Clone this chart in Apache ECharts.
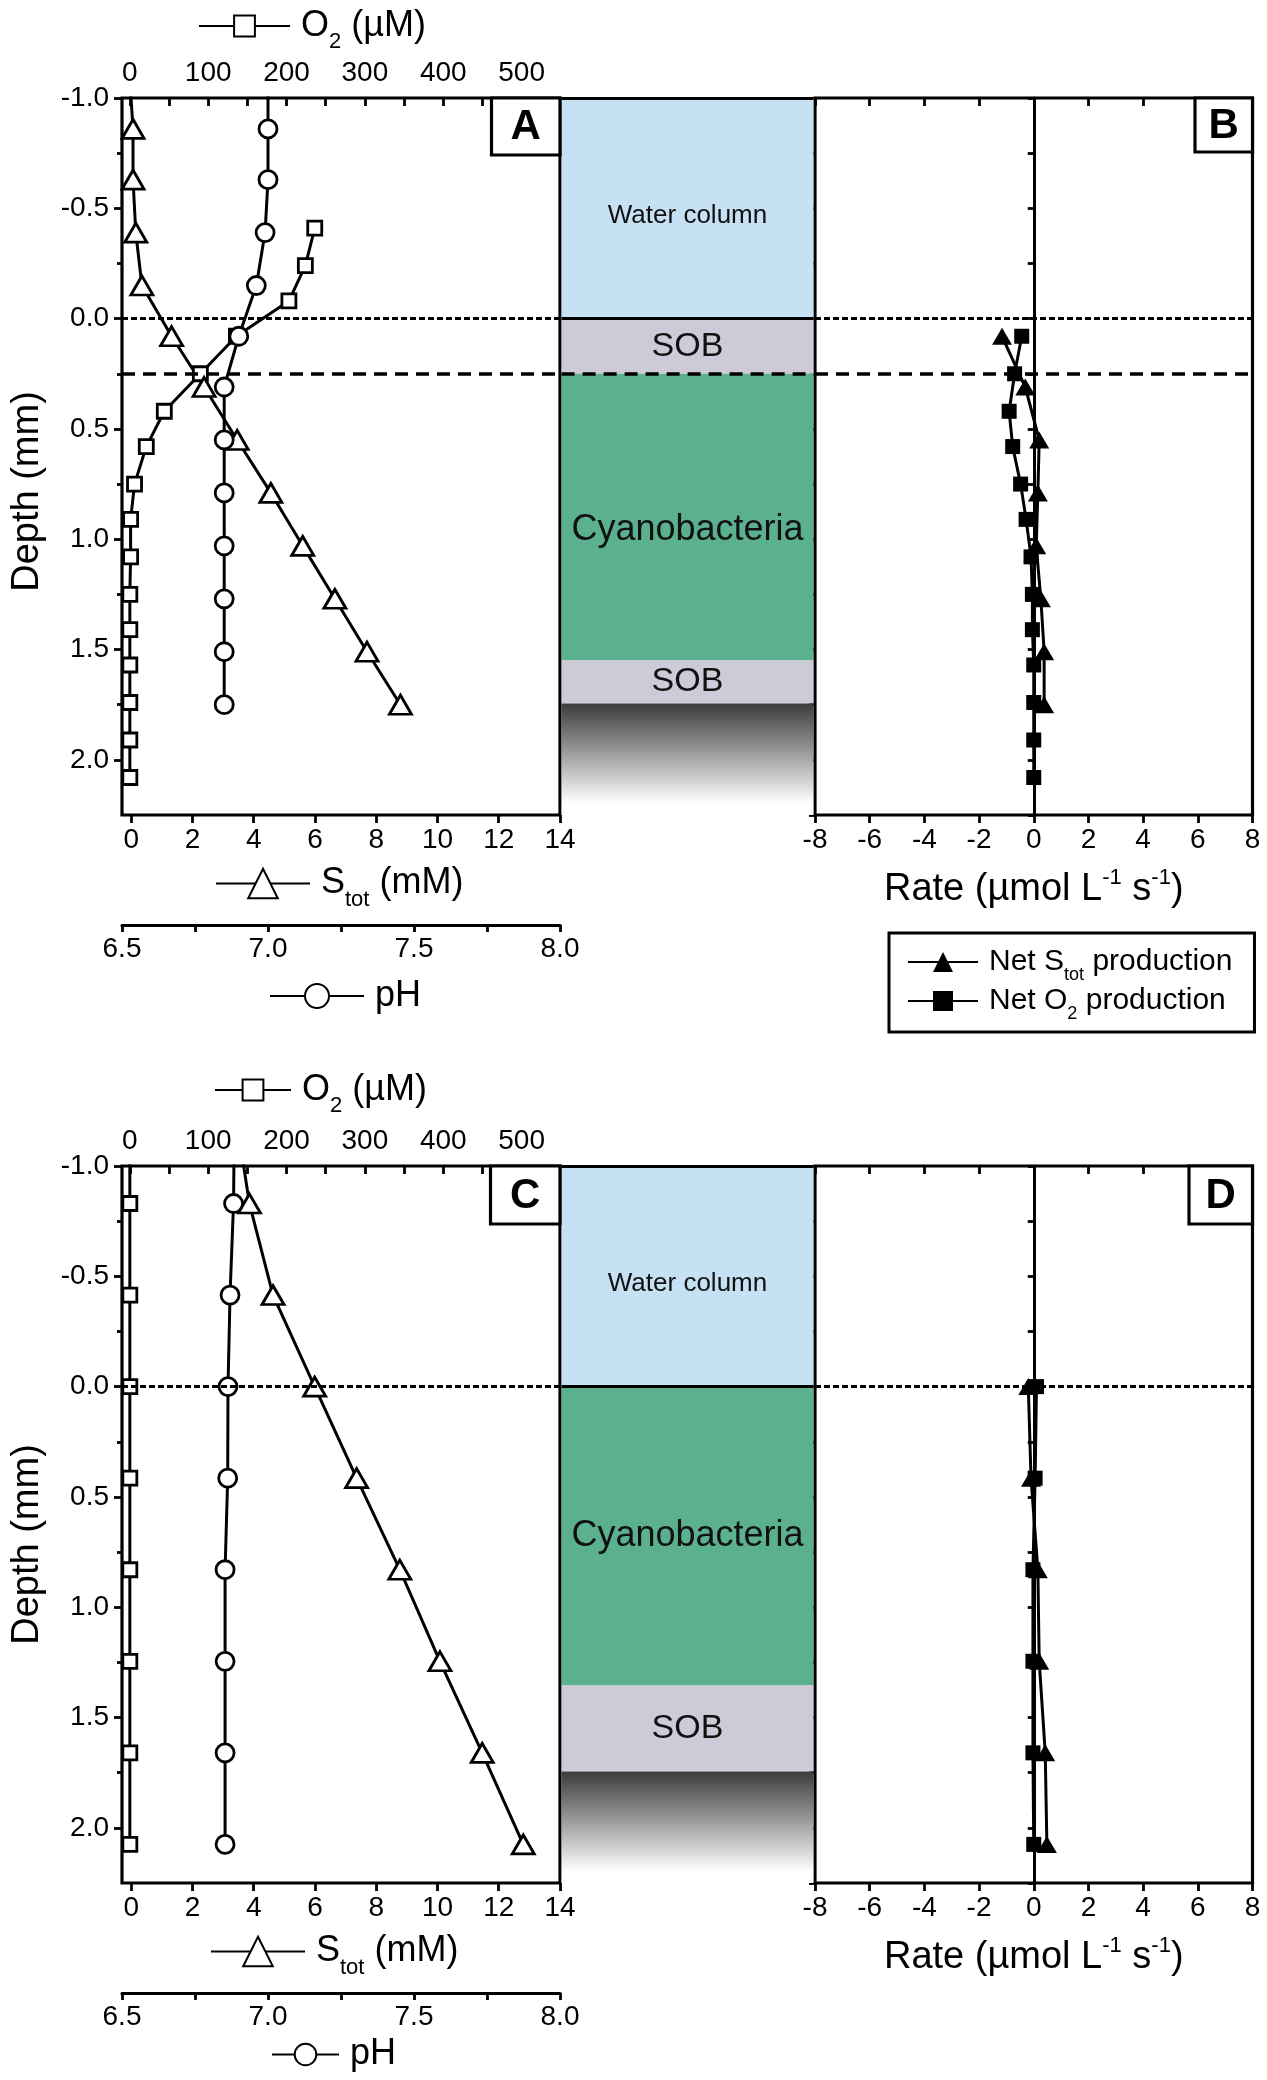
<!DOCTYPE html>
<html>
<head>
<meta charset="utf-8">
<script src="https://cdn.jsdelivr.net/npm/echarts@6/dist/echarts.min.js"></script>
<style>
  html, body { margin: 0; padding: 0; background: #fff; }
  #chart { width: 1267px; height: 2080px; }
</style>
</head>
<body>
<div id="chart"></div>
<script>
// ---------- data ----------
// top row: panels A and B
const depthO2A = [-0.41, -0.24, -0.08, 0.08, 0.25, 0.42, 0.58, 0.75, 0.91, 1.08, 1.25, 1.41, 1.57, 1.74, 1.91, 2.08];
const o2A      = [236, 224, 203, 136, 90, 44, 21, 6, 1, 1, 0, 0, 0, 0, 0, 0];
const depthSA  = [-1.10, -0.86, -0.63, -0.39, -0.15, 0.08, 0.31, 0.55, 0.79, 1.03, 1.27, 1.51, 1.75];
const stotA    = [-0.05, 0.06, 0.06, 0.15, 0.35, 1.32, 2.38, 3.46, 4.56, 5.6, 6.65, 7.7, 8.79];
const phA      = [7.0, 7.0, 7.0, 6.99, 6.96, 6.9, 6.85, 6.85, 6.85, 6.85, 6.85, 6.85, 6.85];
const depthRateSB = [0.08, 0.31, 0.55, 0.79, 1.03, 1.27, 1.51, 1.75];
const rateSB      = [-1.16, -0.31, 0.2, 0.15, 0.09, 0.26, 0.38, 0.38];
const depthRateOB = [0.08, 0.25, 0.42, 0.58, 0.75, 0.91, 1.08, 1.25, 1.41, 1.57, 1.74, 1.91, 2.08];
const rateOB      = [-0.44, -0.7, -0.9, -0.77, -0.48, -0.28, -0.1, -0.05, -0.05, 0, 0, 0, 0];
const zoneNamesAB   = ['Water column', 'SOB', 'Cyanobacteria', 'SOB', ''];
const zoneKindsAB   = ['water', 'sob', 'cyano', 'sob', 'sediment'];
const zoneTopsAB    = [-1, 0, 0.25, 1.55, 1.745];
const zoneBottomsAB = [0, 0.25, 1.55, 1.745, 2.25];
const dashLevelsAB  = [0, 0.25];

// bottom row: panels C and D
const depthC = [-1.245, -0.83, -0.415, 0, 0.415, 0.83, 1.245, 1.66, 2.075];
const o2C    = [0, 0, 0, 0, 0, 0, 0, 0, 0];
const stotC  = [3.4, 3.86, 4.63, 5.99, 7.36, 8.77, 10.08, 11.46, 12.8];
const phC    = [6.885, 6.882, 6.87, 6.863, 6.862, 6.853, 6.853, 6.853, 6.853];
const depthRateD = [0, 0.415, 0.83, 1.245, 1.66, 2.075];
const rateSD     = [-0.2, -0.1, 0.15, 0.2, 0.42, 0.48];
const rateOD     = [0.1, 0.05, -0.03, -0.03, -0.03, 0];
const zoneNamesCD   = ['Water column', 'Cyanobacteria', 'SOB', ''];
const zoneKindsCD   = ['water', 'cyano', 'sob', 'sediment'];
const zoneTopsCD    = [-1, 0, 1.355, 1.745];
const zoneBottomsCD = [0, 1.355, 1.745, 2.25];
const dashLevelsCD  = [0];

// tick labels
const o2Ticks     = [0, 100, 200, 300, 400, 500];
const o2TickMarks = [0, 50, 100, 150, 200, 250, 300, 350, 400, 450, 500];
const stotTicks   = [0, 2, 4, 6, 8, 10, 12, 14];
const phTicks     = [6.5, 7.0, 7.5, 8.0];
const depthMinorTicks = [-0.75, -0.25, 0.25, 0.75, 1.25, 1.75];

// ---------- styling / layout ----------
const FONT = "'Liberation Sans', Arial, Helvetica, sans-serif";
const INK = '#000';
const ROW_TOP = [98, 1166];
const PLOT_H = 717;
const FRAME_W = 3.2;
const COL = { left: { x: 122, w: 438 }, mid: { x: 561.6, w: 251.8 }, right: { x: 815, w: 437.5 } };

const surfaceDash = { color: INK, width: 3, type: [6, 3] };
const layerDash = { color: INK, width: 3.5, type: [13, 8] };
const solidEdge = { color: INK, width: FRAME_W, type: 'solid' };

const zoneStyle = {
  water: { item: { color: '#c6e1f4' }, label: { show: true, fontSize: 26 } },
  sob: { item: { color: '#cdcbd8' }, label: { show: true, fontSize: 34 } },
  cyano: { item: { color: '#5bb090' }, label: { show: true, fontSize: 36 } },
  sediment: {
    item: { color: { type: 'linear', x: 0, y: 0, x2: 0, y2: 1,
      colorStops: [{ offset: 0, color: '#3c3c3c' }, { offset: 0.9, color: '#ffffff' }, { offset: 1, color: '#ffffff' }] } },
    label: { show: false }
  }
};

const keyLabels = {
  o2: '{m|O}{s|2}{m| (µM)}',
  stot: '{m|S}{s|tot}{m| (mM)}',
  ph: '{m|pH}',
  rs: '{n|Net S}{t|tot}{n| production}',
  ro: '{n|Net O}{t|2}{n| production}'
};
const titleRich = {
  m: { fontSize: 36, lineHeight: 54, verticalAlign: 'middle', fontFamily: FONT, color: INK },
  s: { fontSize: 22, lineHeight: 22, verticalAlign: 'bottom', fontFamily: FONT, color: INK },
  r: { fontSize: 38, lineHeight: 46, verticalAlign: 'middle', fontFamily: FONT, color: INK },
  p: { fontSize: 22, lineHeight: 22, verticalAlign: 'top', fontFamily: FONT, color: INK }
};
const keyRich = {
  n: { fontSize: 30, lineHeight: 44, verticalAlign: 'middle', fontFamily: FONT, color: INK },
  t: { fontSize: 18, lineHeight: 18, verticalAlign: 'bottom', fontFamily: FONT, color: INK }
};

// axis-title keys: [left, centre y, icon width, icon height]
const keyPos = [
  { o2: [198, 21, 91, 26], stot: [215, 884, 94, 37], ph: [269, 993, 94, 30] },
  { o2: [214, 1085, 76, 26], stot: [210, 1952, 94, 37], ph: [271, 2050, 67, 27] }
];
// extra downward shift of the rotated depth title, and of the cyanobacteria label
const depthTitleShift = [70, 40];
const cyanoLabelShift = [13, 0];
const panelBoxes = [
  { t: 'A', x: 491.5, y: 98, w: 68.5, h: 57 },
  { t: 'B', x: 1195, y: 98, w: 57.5, h: 54 },
  { t: 'C', x: 490.5, y: 1166, w: 69.5, h: 58 },
  { t: 'D', x: 1189, y: 1166, w: 63.5, h: 58 }
];

const option = {
  animation: false,
  backgroundColor: '#fff',
  textStyle: { fontFamily: FONT },
  grid: [], xAxis: [], yAxis: [], series: [], legend: [], graphic: []
};

function pairs(xs, ys) {
  return xs.map((x, i) => [x, ys[i]]);
}
function tick(len, extra) {
  return Object.assign({ show: true, length: len, lineStyle: { color: INK, width: 2.8 } }, extra);
}
function label(margin, extra) {
  return Object.assign({ show: true, margin: margin, fontSize: 28, color: INK, fontFamily: FONT }, extra);
}
function profile(name, xi, yi, xs, ys, symbol, size) {
  return {
    type: 'line', name: name, xAxisIndex: xi, yAxisIndex: yi, data: pairs(xs, ys),
    symbol: symbol, symbolSize: size, clip: true, silent: true, z: 3,
    lineStyle: { color: INK, width: 3 },
    itemStyle: { color: '#fff', borderColor: INK, borderWidth: 2.8 },
    emphasis: { disabled: true }
  };
}
function rate(name, xi, yi, xs, ys, symbol, size) {
  return {
    type: 'line', name: name, xAxisIndex: xi, yAxisIndex: yi, data: pairs(xs, ys),
    symbol: symbol, symbolSize: size, clip: true, silent: true, z: 3,
    lineStyle: { color: INK, width: 3 },
    itemStyle: { color: INK, borderWidth: 0 },
    emphasis: { disabled: true }
  };
}
function dashMarks(levels) {
  return {
    silent: true, symbol: ['none', 'none'], label: { show: false }, emphasis: { disabled: true },
    data: levels.map(v => ({ yAxis: v, lineStyle: v === 0 ? surfaceDash : layerDash }))
  };
}
function zoneSeries(r, xi, yi, names, kinds, tops, bottoms, levels) {
  const edges = [{ yAxis: -1, lineStyle: solidEdge }, { yAxis: 0, lineStyle: solidEdge }];
  levels.filter(v => v !== 0).forEach(v => edges.push({ yAxis: v, lineStyle: layerDash }));
  return {
    type: 'line', name: 'zones_' + r, xAxisIndex: xi, yAxisIndex: yi, data: [[0.5, -1]],
    symbol: 'none', lineStyle: { width: 0 }, silent: true,
    markArea: {
      silent: true,
      data: names.map((n, i) => {
        const lab = Object.assign({ position: 'inside', color: '#111', fontFamily: FONT }, zoneStyle[kinds[i]].label);
        if (kinds[i] === 'water') lab.offset = [0, 8];
        if (kinds[i] === 'cyano') lab.offset = [0, cyanoLabelShift[r]];
        return [{ name: n, yAxis: tops[i], itemStyle: zoneStyle[kinds[i]].item, label: lab }, { yAxis: bottoms[i] }];
      })
    },
    markLine: { silent: true, symbol: ['none', 'none'], label: { show: false }, data: edges }
  };
}

function buildRow(r, d) {
  const top = ROW_TOP[r], g = 3 * r, xb = 6 * r, yb = 5 * r;
  const frame = { show: true, borderColor: INK, borderWidth: FRAME_W, backgroundColor: 'transparent', outerBoundsMode: 'none' };
  option.grid.push(
    Object.assign({ left: COL.left.x, top: top, width: COL.left.w, height: PLOT_H }, frame),
    { left: COL.mid.x, top: top, width: COL.mid.w, height: PLOT_H, show: false, outerBoundsMode: 'none' },
    Object.assign({ left: COL.right.x, top: top, width: COL.right.w, height: PLOT_H }, frame)
  );

  const base = { type: 'value', splitLine: { show: false }, axisLine: { show: false, onZero: false } };
  option.xAxis.push(
    Object.assign({}, base, { gridIndex: g, position: 'top', min: -10, max: 549,
      axisTick: tick(8, { inside: true, customValues: o2TickMarks }),
      axisLabel: label(11, { customValues: o2Ticks }) }),
    Object.assign({}, base, { gridIndex: g, position: 'bottom', min: -0.3, max: 14,
      axisTick: tick(8, { customValues: stotTicks }),
      axisLabel: label(11, { customValues: stotTicks }) }),
    Object.assign({}, base, { gridIndex: g, position: 'bottom', offset: 110, min: 6.5, max: 8, interval: 0.25,
      axisLine: { show: true, onZero: false, lineStyle: { color: INK, width: 3.2 } },
      axisTick: tick(7),
      axisLabel: label(10, { customValues: phTicks, formatter: v => v.toFixed(1) }) }),
    Object.assign({}, base, { gridIndex: g + 1, min: 0, max: 1, show: false }),
    Object.assign({}, base, { gridIndex: g + 2, position: 'bottom', min: -8, max: 8, interval: 2,
      axisTick: tick(8), axisLabel: label(11),
      name: '{r|Rate (µmol L}{p|-1}{r| s}{p|-1}{r|)}', nameLocation: 'middle', nameGap: 52,
      nameMoveOverlap: false,
      nameTextStyle: { rich: titleRich } }),
    Object.assign({}, base, { gridIndex: g + 2, position: 'top', min: -8, max: 8, interval: 2,
      axisTick: tick(8, { inside: true }), axisLabel: { show: false } })
  );

  const depth = Object.assign({}, base, { min: -1, max: 2.25, inverse: true });
  option.yAxis.push(
    Object.assign({}, depth, { gridIndex: g, position: 'left', interval: 0.5,
      axisTick: tick(8),
      axisLabel: label(13, { formatter: v => v.toFixed(1), showMaxLabel: false }),
      name: 'Depth (mm)', nameLocation: 'middle', nameGap: 75,
      nameTextStyle: { fontSize: 38, color: INK, fontFamily: FONT, padding: [0, depthTitleShift[r], 0, 0] } }),
    Object.assign({}, depth, { gridIndex: g, position: 'left',
      axisTick: tick(5, { customValues: depthMinorTicks }), axisLabel: { show: false } }),
    Object.assign({}, depth, { gridIndex: g + 1, show: false }),
    Object.assign({}, depth, { gridIndex: g + 2, position: 'left', interval: 0.25,
      axisTick: tick(6), axisLabel: { show: false } }),
    Object.assign({}, depth, { gridIndex: g + 2, position: 'left', interval: 0.25,
      axisLine: { show: true, onZero: true, onZeroAxisIndex: xb + 4, lineStyle: { color: INK, width: 3 } },
      axisTick: tick(6), axisLabel: { show: false } })
  );

  const sSeries = profile('stot_' + r, xb + 1, yb, d.stot, d.sDepth, 'triangle', [22, 19]);
  sSeries.markLine = dashMarks(d.levels);
  const oRate = rate('ro_' + r, xb + 4, yb + 3, d.rateO, d.rateODepth, 'rect', 15);
  oRate.markLine = dashMarks(d.levels);
  option.series.push(
    profile('o2_' + r, xb, yb, d.o2, d.o2Depth, 'rect', 14),
    sSeries,
    profile('ph_' + r, xb + 2, yb, d.ph, d.phDepth, 'circle', 18),
    zoneSeries(r, xb + 3, yb + 2, d.zNames, d.zKinds, d.zTops, d.zBottoms, d.levels),
    rate('rs_' + r, xb + 4, yb + 3, d.rateS, d.rateSDepth, 'triangle', [20, 17]),
    oRate
  );

  // axis-title keys drawn as one-item legends
  ['o2', 'stot', 'ph'].forEach(k => {
    const p = keyPos[r][k];
    option.legend.push({
      data: [k + '_' + r], left: p[0], top: p[1] - p[3] / 2, itemWidth: p[2], itemHeight: p[3],
      padding: 0, selectedMode: false, formatter: n => keyLabels[n.split('_')[0]],
      textStyle: { color: INK, fontFamily: FONT, fontSize: 36, padding: [0, 0, 0, 6], rich: titleRich }
    });
  });
}

buildRow(0, {
  o2Depth: depthO2A, o2: o2A, sDepth: depthSA, stot: stotA, phDepth: depthSA, ph: phA,
  rateSDepth: depthRateSB, rateS: rateSB, rateODepth: depthRateOB, rateO: rateOB,
  zNames: zoneNamesAB, zKinds: zoneKindsAB, zTops: zoneTopsAB, zBottoms: zoneBottomsAB, levels: dashLevelsAB
});
buildRow(1, {
  o2Depth: depthC, o2: o2C, sDepth: depthC, stot: stotC, phDepth: depthC, ph: phC,
  rateSDepth: depthRateD, rateS: rateSD, rateODepth: depthRateD, rateO: rateOD,
  zNames: zoneNamesCD, zKinds: zoneKindsCD, zTops: zoneTopsCD, zBottoms: zoneBottomsCD, levels: dashLevelsCD
});

// key for the rate profiles, under panel B only
option.legend.push({
  data: ['rs_0', 'ro_0'], orient: 'vertical', left: 889, top: 933,
  itemWidth: 70, itemHeight: 25, itemGap: 2, padding: [14, 22, 9, 18],
  borderColor: INK, borderWidth: 3, selectedMode: false,
  formatter: n => keyLabels[n.split('_')[0]],
  textStyle: { color: INK, fontFamily: FONT, fontSize: 30, padding: [0, 0, 0, 6], rich: keyRich }
});

panelBoxes.forEach(b => {
  option.graphic.push(
    { type: 'rect', shape: { x: b.x, y: b.y, width: b.w, height: b.h },
      style: { fill: '#fff', stroke: INK, lineWidth: FRAME_W }, z: 5, silent: true },
    { type: 'text', x: b.x + b.w / 2, y: b.y + b.h / 2 + 1,
      style: { text: b.t, font: 'bold 42px ' + FONT, fill: INK, textAlign: 'center', textVerticalAlign: 'middle', verticalAlign: 'middle' },
      z: 6, silent: true }
  );
});

const chart = echarts.init(document.getElementById('chart'), null, { renderer: 'canvas' });
chart.setOption(option);
</script>
</body>
</html>
